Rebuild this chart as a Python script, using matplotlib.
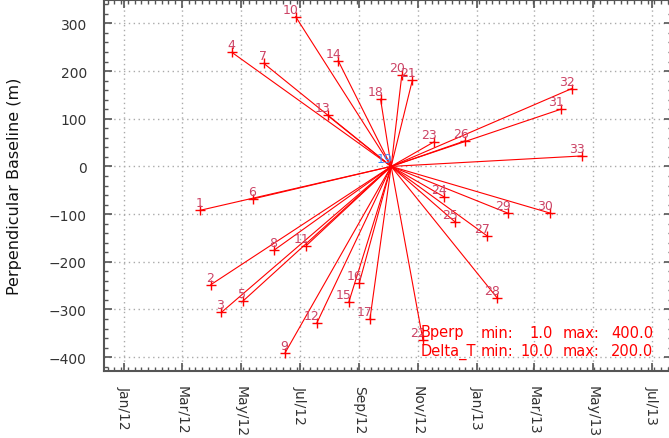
import numpy as np
import matplotlib
matplotlib.use("Agg")
import matplotlib.pyplot as plt
import matplotlib.dates as mdates
from matplotlib.ticker import MultipleLocator, AutoMinorLocator
from datetime import datetime

# acquisition dates of the slave images (number = list position + 1, 19 is the master)
ids = [1, 2, 3, 4, 5, 6, 7, 8, 9, 10, 11, 12, 13, 14, 15, 16, 17, 18,
       20, 21, 22, 23, 24, 25, 26, 27, 28, 29, 30, 31, 32, 33]
dates = ["2012-03-20", "2012-03-31", "2012-04-11", "2012-04-22", "2012-05-03",
         "2012-05-14", "2012-05-25", "2012-06-05", "2012-06-16", "2012-06-27",
         "2012-07-08", "2012-07-19", "2012-07-30", "2012-08-10", "2012-08-21",
         "2012-09-01", "2012-09-12", "2012-09-23",
         "2012-10-15", "2012-10-26", "2012-11-06", "2012-11-17", "2012-11-28",
         "2012-12-09", "2012-12-20", "2013-01-11", "2013-01-22", "2013-02-02",
         "2013-03-18", "2013-03-29", "2013-04-09", "2013-04-20"]
bperp = [-92, -248, -306, 239, -283, -68, 216, -175, -391, 314,
         -166, -328, 107, 222, -285, -244, -320, 141,
         191, 181, -365, 51, -64, -116, 54, -145, -276, -98,
         -98, 120, 163, 22]

master_id = 19
master_date = "2012-10-04"
master_bperp = 0

info_rows = [["Bperp", "min:", "1.0", "max:", "400.0"],
             ["Delta_T", "min:", "10.0", "max:", "200.0"]]

W, H = 669, 439
fig = plt.figure(figsize=(W / 100, H / 100), dpi=100)
ax = fig.add_axes([103.5 / W, (H - 372) / H, (672 - 103.5) / W, (372 - 1) / H])

d = [mdates.date2num(datetime.strptime(s, "%Y-%m-%d")) for s in dates]
md = mdates.date2num(datetime.strptime(master_date, "%Y-%m-%d"))

for i in range(len(ids)):
    ax.plot([md, d[i]], [master_bperp, bperp[i]], color="red", lw=0.8, zorder=3)
    ax.plot(d[i], bperp[i], "+", color="red", ms=7, mew=1.0, zorder=4)
    ax.annotate(str(ids[i]), (d[i], bperp[i]), xytext=(3, 1), textcoords="offset pixels",
                ha="right", va="bottom", fontsize=9, color="#cc4466", zorder=5)
ax.annotate(str(master_id), (md, master_bperp), xytext=(1, 1), textcoords="offset pixels",
            ha="right", va="bottom", fontsize=9, color="#3a8cff", zorder=5)

x0 = mdates.date2num(datetime(2012, 1, 1))
ax.set_xlim(x0 + (103.5 - 124) / 0.9645, x0 + (672 - 124) / 0.9645)
ax.set_ylim(-429, 349)

ax.xaxis.set_major_locator(mdates.MonthLocator(bymonth=[1, 3, 5, 7, 9, 11]))
ax.xaxis.set_major_formatter(mdates.DateFormatter("%b/%y"))
ax.xaxis.set_minor_locator(MultipleLocator(7))
ax.yaxis.set_major_locator(MultipleLocator(100))
ax.yaxis.set_minor_locator(AutoMinorLocator(5))

ax.tick_params(which="both", direction="in", top=True, right=True, colors="#555555",
               labelcolor="#333333", labelsize=10)
ax.tick_params(which="major", length=6, width=1.2)
ax.tick_params(which="minor", length=3, width=1.0)
ax.tick_params(axis="y", pad=12)
ax.tick_params(axis="x", pad=10)
for lab in ax.get_xticklabels():
    lab.set_rotation(270)
    lab.set_va("top")
    lab.set_ha("center")

for s in ax.spines.values():
    s.set_color("#555555")
    s.set_linewidth(1.5)

ax.grid(True, which="major", color="#aaaaaa", linestyle=(0, (1, 2.5)), lw=1.0)
ax.set_axisbelow(True)
ax.set_ylabel("Perpendicular Baseline (m)", fontsize=11.5, color="#111111")
ax.yaxis.set_label_coords(-(103.5 - 22) / (672 - 103.5), 0.5)

# info box text, columns placed in figure pixels
col_x = [(421, "left"), (481, "left"), (553, "right"), (563, "left"), (653, "right")]
row_y = [333, 351.5]
for r, row in enumerate(info_rows):
    for c, txt in enumerate(row):
        x, ha = col_x[c]
        fig.text(x / W, 1 - row_y[r] / H, txt, ha=ha, va="center", fontsize=10.5,
                 color="red", zorder=6)

fig.savefig("out.png", dpi=100)
